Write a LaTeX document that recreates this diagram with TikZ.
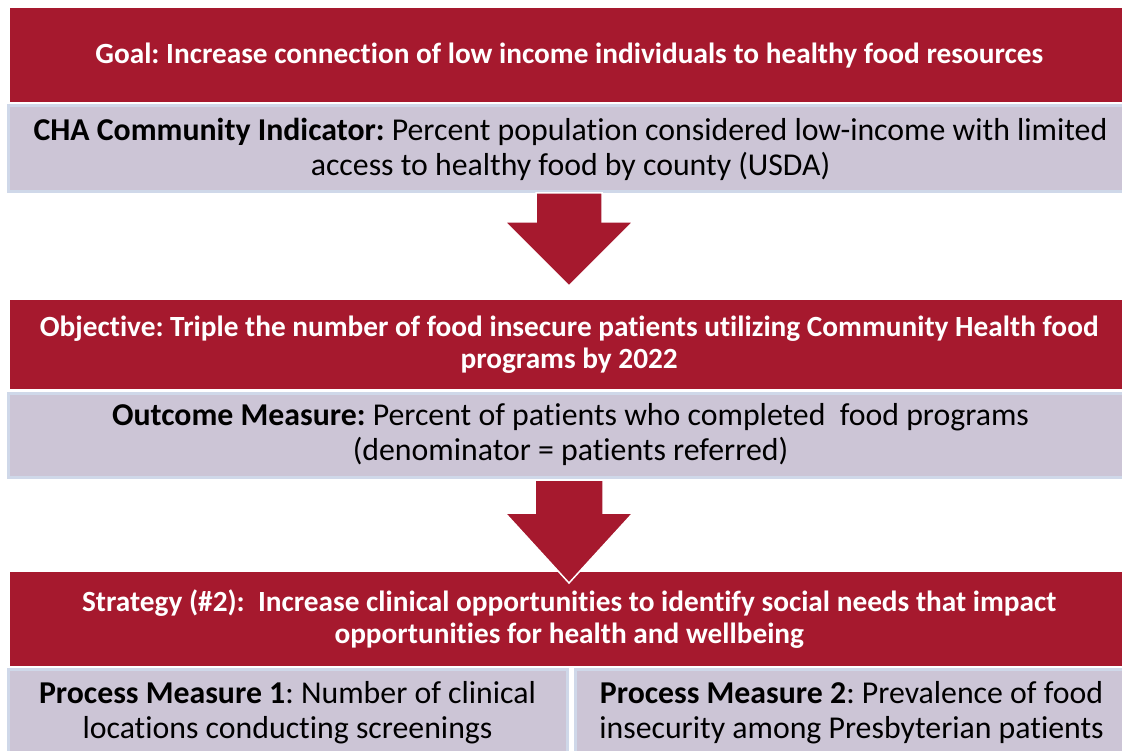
\documentclass[tikz,border=0pt]{standalone}
\usepackage{fontspec}
\setmainfont[Ligatures=NoCommon]{Carlito}
\definecolor{crimson}{HTML}{A6192E}
\definecolor{lav}{HTML}{CCC5D6}
\definecolor{lblue}{HTML}{CFD8E9}
\begin{document}
\frenchspacing
\begin{tikzpicture}[x=1pt,y=-1pt,
  redbox/.style={fill=crimson, draw=none, inner sep=0pt, text=white,
    font=\fontsize{29.3}{32}\selectfont\bfseries\frenchspacing, align=center, anchor=north west},
  greybox/.style={fill=lav, draw=lblue, line width=3pt, inner sep=0pt, text=black,
    font=\fontsize{31.8}{35}\selectfont\frenchspacing, align=center, anchor=north west},
  redext/.style={fill=crimson},
  blockarrow/.style={fill=crimson, draw=white, line width=1.5pt}]
\useasboundingbox (0,0) rectangle (1122,751);
\clip (0,0) rectangle (1122,751);

\node[redbox, minimum width=1118pt, minimum height=94pt] (goal) at (10,8)
  {Goal: Increase connection of low income individuals to healthy food resources};
\fill[redext] ([xshift=-1pt]goal.north east) rectangle ([xshift=20pt]goal.south east);
\node[greybox, minimum width=1125pt, minimum height=86pt] (cha) at (6.5,104.5)
  {\textbf{CHA Community Indicator:} Percent population considered low-income with limited\\
   access to healthy food by county (USDA)};

\node[redbox, minimum width=1118pt, minimum height=89pt] (obj) at (10,300)
  {Objective: Triple the number of food insecure patients utilizing Community Health food\\
   programs by 2022};
\fill[redext] ([xshift=-1pt]obj.north east) rectangle ([xshift=20pt]obj.south east);
\node[greybox, minimum width=1125pt, minimum height=84pt] (out) at (6.5,391.5)
  {\textbf{Outcome Measure:} Percent of patients who completed\ \ food programs\\
   (denominator = patients referred)};

\node[redbox, minimum width=1118pt, minimum height=94pt] (strat) at (10,572)
  {Strategy (\#2):\ \ Increase clinical opportunities to identify social needs that impact\\
   opportunities for health and wellbeing};
\fill[redext] ([xshift=-1pt]strat.north east) rectangle ([xshift=20pt]strat.south east);
\node[greybox, minimum width=559pt, minimum height=88pt] (pm1) at (6.5,667.5)
  {\textbf{Process Measure 1}: Number of clinical\\ locations conducting screenings};
\node[greybox, minimum width=553pt, minimum height=88pt] (pm2) at (573.5,667.5)
  {\textbf{Process Measure 2}: Prevalence of food\\ insecurity among Presbyterian patients};

\draw[blockarrow] (536,193) -- (602,193) -- (602,222) -- (633,222) -- (569,286)
  -- (505,222) -- (536,222) -- cycle;
\draw[blockarrow] (535,480) -- (603,480) -- (603,513) -- (633,513) -- (569,583)
  -- (505,513) -- (535,513) -- cycle;
\end{tikzpicture}
\end{document}
